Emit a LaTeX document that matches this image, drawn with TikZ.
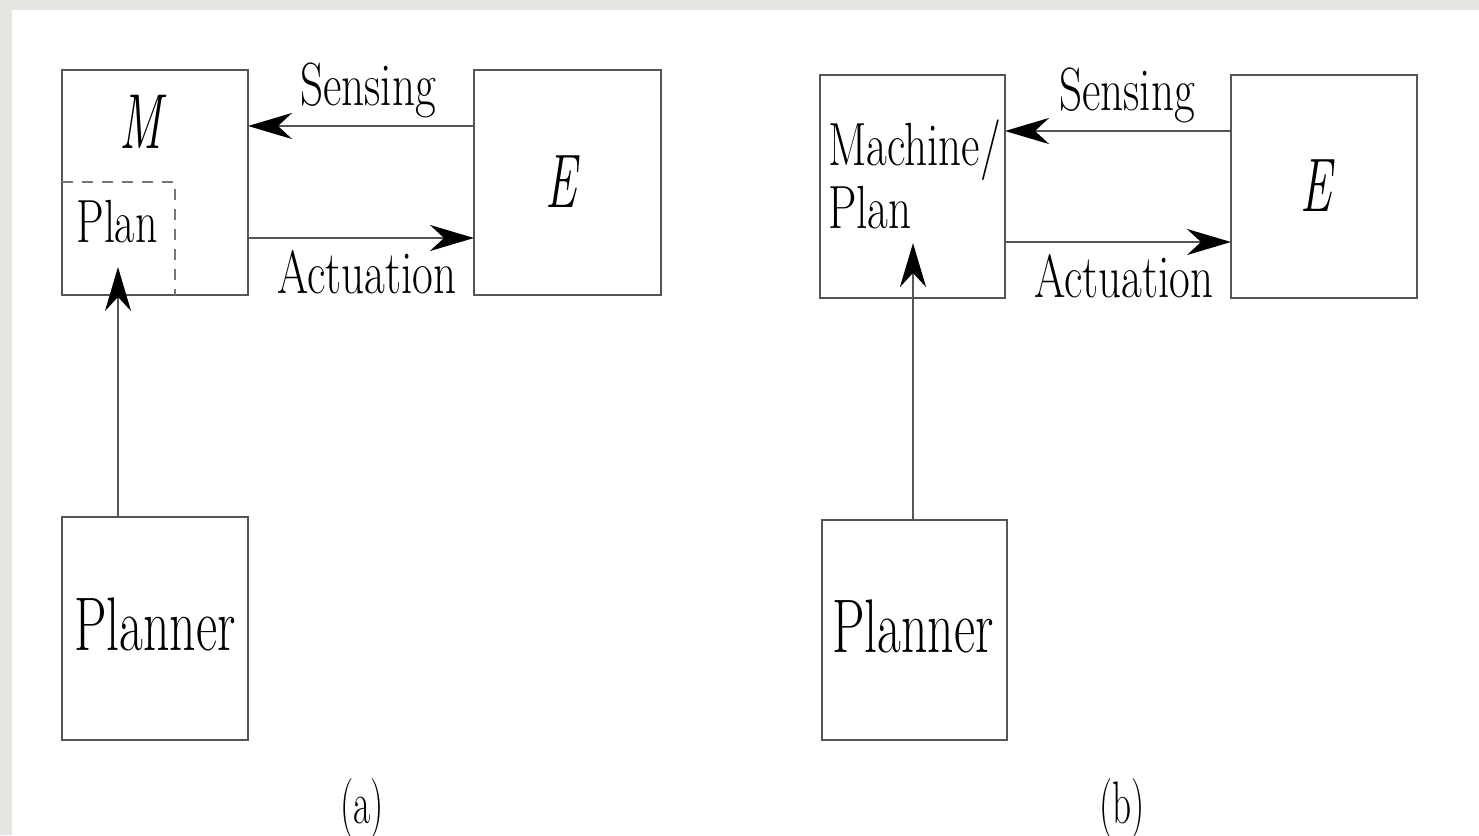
\documentclass[tikz,border=0pt]{standalone}
\usepackage{graphicx}
\usetikzlibrary{arrows.meta}
\definecolor{edge}{HTML}{555555}
\definecolor{frame}{HTML}{E7E5E1}
% condensed lettering
\newcommand\narrow[2][0.74]{\scalebox{#1}[1]{#2}}
\begin{document}
\begin{tikzpicture}[x=1pt,y=-1pt,
  box/.style={draw=edge,line width=2.8pt,inner sep=0pt,outer sep=0pt},
  lbl/.style={inner sep=0pt,outer sep=0pt,anchor=base,font=\fontsize{61}{63}\selectfont},
  big/.style={lbl,font=\fontsize{76}{80}\selectfont},
  conn/.style={draw=edge,line width=2.8pt,-{Stealth[length=44pt,width=26pt,inset=14pt,color=black]}},
  part/.style={draw=edge!80,line width=2.8pt,dash pattern=on 11pt off 9pt}]
% page and frame
\fill[frame] (0,0) rectangle (1479,835);
\fill[white] (12,10) rectangle (1479,835);
\useasboundingbox (0,0) rectangle (1479,835);

% ---------- (a) ----------
\node[box,minimum width=186pt,minimum height=225pt] (ma) at (155,182.5) {};
\node[box,minimum width=187pt,minimum height=225pt] (ea) at (567.5,182.5) {};
\node[box,minimum width=186pt,minimum height=223pt] (pa) at (155,628.5) {};
\coordinate (plancorner) at (175,182);
\draw[part] (ma.west |- plancorner) -- (plancorner) -- (plancorner |- ma.south);
\node[big,font=\fontsize{78}{80}\selectfont] (mlbl) at (143,148) {\narrow[0.62]{\textit{M}}};
\node[lbl] (planlbl) at (117,242) {\narrow[0.72]{Plan}};
\node[big] (elbl-a) at (563,207) {\narrow[0.62]{\textit{E}}};
\node[big] (plannerlbl-a) at (155,650) {\narrow[0.68]{Planner}};
\draw[conn] ([yshift=56.5pt]ea.west) -- ([yshift=56.5pt]ma.east);
\draw[conn] ([yshift=-55.5pt]ma.east) -- ([yshift=-55.5pt]ea.west);
\node[lbl] (sens-a) at (368,105) {\narrow{Sensing}};
\node[lbl] (act-a) at (367,293) {\narrow{Actuation}};
\coordinate (tip-a) at (118,267);
\draw[conn] (tip-a |- pa.north) -- (tip-a);
\node[lbl,font=\fontsize{60}{62}\selectfont] (cap-a) at (362,823) {\narrow[0.62]{(a)}};

% ---------- (b) ----------
\node[box,minimum width=185pt,minimum height=223pt] (mb) at (912.5,186.5) {};
\node[box,minimum width=186pt,minimum height=223pt] (eb) at (1324,186.5) {};
\node[box,minimum width=185pt,minimum height=220pt] (pb) at (914.5,630) {};
\node[lbl,anchor=base west] (mach) at (828,165) {\narrow{Machine/}};
\node[lbl,anchor=base west] (machplan) at (828,228) {\narrow{Plan}};
\node[big] (elbl-b) at (1318,211) {\narrow[0.62]{\textit{E}}};
\node[big] (plannerlbl-b) at (913,652) {\narrow[0.68]{Planner}};
\draw[conn] ([yshift=55.5pt]eb.west) -- ([yshift=55.5pt]mb.east);
\draw[conn] ([yshift=-55.5pt]mb.east) -- ([yshift=-55.5pt]eb.west);
\node[lbl] (sens-b) at (1127,110) {\narrow{Sensing}};
\node[lbl] (act-b) at (1124,297) {\narrow{Actuation}};
\coordinate (tip-b) at (913,243);
\draw[conn] (tip-b |- pb.north) -- (tip-b);
\node[lbl,font=\fontsize{60}{62}\selectfont] (cap-b) at (1122,823) {\narrow[0.62]{(b)}};
\end{tikzpicture}
\end{document}
